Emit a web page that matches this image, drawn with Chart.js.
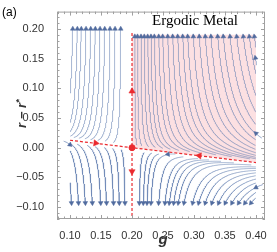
<!DOCTYPE html>
<html>
<head>
<meta charset="utf-8">
<script src="https://cdn.jsdelivr.net/npm/chart.js@4.4.0/dist/chart.umd.min.js"></script>
<style>
  html, body { margin: 0; padding: 0; background: #fff; }
</style>
</head>
<body>
<canvas id="c" width="277" height="252"></canvas>
<script>
// axis ranges and ticks
const X_RANGE = [0.079, 0.4145];
const Y_RANGE = [-0.12, 0.229];
const X_TICKS = [0.10, 0.15, 0.20, 0.25, 0.30, 0.35, 0.40];
const Y_TICKS = [-0.10, -0.05, 0.00, 0.05, 0.10, 0.15, 0.20];

// saddle point and its stable separatrix
const FIXED_POINT = [0.2, 0.0];
const SEP_SLOPE = -0.125;
const SEP_X = [0.1, 0.4];
const CRIT_Y = [-0.115, 0.195];     // vertical unstable line
const METAL_TOP = 0.19;              // top of shaded region

// flow strengths (du = -A g u, dw = B w (1 + C|w|))
const FLOW_A = 1.0;
const FLOW_B = 0.874;
const FLOW_C = 10;

// streamline end points (arrow tips)
const UP_LEFT_X = [0.1044, 0.1118, 0.1182, 0.1258, 0.1334, 0.1408, 0.1484, 0.156, 0.1645, 0.1726, 0.1818];
const UP_LEFT_Y = 0.2;
const UP_RIGHT_X = [0.2045, 0.2089, 0.2145, 0.2198, 0.2253, 0.2306, 0.236, 0.2431, 0.2495, 0.2576, 0.2656, 0.2737,
  0.2818, 0.2898, 0.2989, 0.3085, 0.3182, 0.3274, 0.3382, 0.3473, 0.3581, 0.3689, 0.3795, 0.3892, 0.3973];
const UP_RIGHT_Y = 0.187;
const DOWN_X = [0.1024, 0.1137, 0.1247, 0.136, 0.1495, 0.1589, 0.1702, 0.1795, 0.1887,
  0.2118, 0.2182, 0.2242, 0.2306, 0.243, 0.2532, 0.2602, 0.2673, 0.2747, 0.2839, 0.2979,
  0.3076, 0.3182, 0.329, 0.3398, 0.3505, 0.3613, 0.3721, 0.3823, 0.3919];
const DOWN_Y = -0.093;
const SHORT_ENDS = [[0.399, 0.151], [0.4, 0.024], [0.4, -0.067], [0.1, 0.005], [0.258, -0.011]];

// red arrows on the separatrices: [x, y, direction]
const RED_ARROWS = [[0.2, 0.095, 'up'], [0.2, -0.04, 'down'], [0.1414, 0.0077, 'in'], [0.3085, -0.0135, 'out']];

const STEP = 0.001;
const W_MIN = 0.005;
const BLUE = 'rgba(96,124,176,0.62)';
const ARROW_BLUE = '#506b9e';
const RED = '#ea2a2f';

function sepY(x) { return FIXED_POINT[1] + SEP_SLOPE * (x - FIXED_POINT[0]); }

function field(x, y) {
  const u = x - FIXED_POINT[0];
  const w = y - sepY(x);
  const du = -FLOW_A * x * u;
  const dw = FLOW_B * w * (1 + FLOW_C * Math.abs(w));
  return [du, dw + SEP_SLOPE * du];
}

// trace backwards from the arrow tip
function trace(x, y, maxLen, clip) {
  const pts = [{x, y}];
  let len = 0;
  while (len < maxLen) {
    const [vx, vy] = field(x, y);
    const s = Math.hypot(vx, vy);
    if (s === 0) break;
    x -= STEP * vx / s;
    y -= STEP * vy / s;
    len += STEP;
    if (clip) {
      if (x < 0.1 || x > 0.4 || y < -0.1 || y > 0.2) break;
      if (Math.abs(y - sepY(x)) < W_MIN) break;
    }
    pts.push({x, y});
  }
  return pts.reverse();
}

function rotation(x, y) {
  const [vx, vy] = field(x, y);
  return Math.atan2(vx * 620, vy * 613) * 180 / Math.PI;
}

const lines = [];
UP_LEFT_X.forEach(x => lines.push(trace(x, UP_LEFT_Y, 0.5, true)));
UP_RIGHT_X.forEach(x => lines.push(trace(x, UP_RIGHT_Y, 0.5, true)));
DOWN_X.forEach(x => lines.push(trace(x, DOWN_Y, 0.5, true)));
SHORT_ENDS.forEach(p => lines.push(trace(p[0], p[1], 0.012, false)));

const datasets = lines.map(pts => ({
  data: pts,
  showLine: true,
  borderColor: BLUE,
  borderWidth: 0.9,
  pointRadius: 0,
  order: 2
}));

const tips = lines.map(pts => pts[pts.length - 1]);
datasets.push({
  data: tips,
  showLine: false,
  pointStyle: 'triangle',
  pointRadius: 2.7,
  pointRotation: tips.map(p => rotation(p.x, p.y)),
  backgroundColor: ARROW_BLUE,
  borderColor: ARROW_BLUE,
  borderWidth: 0.5,
  order: 1
});

// separatrices
datasets.push({
  data: SEP_X.map(x => ({x, y: sepY(x)})),
  showLine: true, borderColor: RED, borderWidth: 1.2, borderDash: [3, 2],
  pointRadius: 0, order: 0
});
datasets.push({
  data: CRIT_Y.map(y => ({x: FIXED_POINT[0], y})),
  showLine: true, borderColor: RED, borderWidth: 1.2, borderDash: [3, 2],
  pointRadius: 0, order: 0
});
const redRot = {up: 0, down: 180, in: 97, out: -83};
datasets.push({
  data: RED_ARROWS.map(a => ({x: a[0], y: a[1]})),
  showLine: false, pointStyle: 'triangle', pointRadius: 3.6,
  pointRotation: RED_ARROWS.map(a => redRot[a[2]]),
  backgroundColor: RED, borderColor: RED, borderWidth: 0.5, order: -1
});
datasets.push({
  data: [{x: FIXED_POINT[0], y: FIXED_POINT[1]}],
  showLine: false, pointStyle: 'circle', pointRadius: 3,
  backgroundColor: RED, borderColor: RED, order: -2
});

// shaded "ergodic metal" region
const shade = {
  id: 'shade',
  beforeDatasetsDraw(chart) {
    const {ctx, scales: {x, y}} = chart;
    ctx.save();
    ctx.fillStyle = 'rgba(252,222,224,0.95)';
    ctx.beginPath();
    ctx.moveTo(x.getPixelForValue(0.2), y.getPixelForValue(sepY(0.2)));
    ctx.lineTo(x.getPixelForValue(0.4), y.getPixelForValue(sepY(0.4)));
    ctx.lineTo(x.getPixelForValue(0.4), y.getPixelForValue(METAL_TOP));
    ctx.lineTo(x.getPixelForValue(0.2), y.getPixelForValue(METAL_TOP));
    ctx.closePath();
    ctx.fill();
    ctx.restore();
  }
};

// frame with inward ticks, plus labels
const frame = {
  id: 'frame',
  afterDraw(chart) {
    const {ctx, chartArea: a, scales: {x, y}} = chart;
    ctx.save();
    ctx.strokeStyle = '#a0a0a0';
    ctx.lineWidth = 1;
    ctx.strokeRect(a.left + 0.5, a.top + 0.5, a.right - a.left - 1, a.bottom - a.top - 1);
    ctx.beginPath();
    for (let i = 8; i <= 41; i++) {
      const px = Math.round(x.getPixelForValue(i / 100)) + 0.5;
      const len = i % 5 === 0 ? 4 : 2.5;
      ctx.moveTo(px, a.bottom); ctx.lineTo(px, a.bottom - len);
      ctx.moveTo(px, a.top); ctx.lineTo(px, a.top + len);
    }
    for (let i = -12; i <= 22; i++) {
      const py = Math.round(y.getPixelForValue(i / 100)) + 0.5;
      const len = i % 5 === 0 ? 4 : 2.5;
      ctx.moveTo(a.left, py); ctx.lineTo(a.left + len, py);
      ctx.moveTo(a.right, py); ctx.lineTo(a.right - len, py);
    }
    ctx.stroke();

    ctx.fillStyle = '#000';
    ctx.font = '15px "Liberation Serif"';
    ctx.textAlign = 'center';
    ctx.textBaseline = 'alphabetic';
    ctx.fillText('Ergodic Metal', 195, 25);

    ctx.font = '12px "Liberation Sans"';
    ctx.textAlign = 'left';
    ctx.fillText('(a)', 2, 16);

    ctx.fillStyle = '#333';
    ctx.font = 'italic bold 15px "Liberation Sans"';
    ctx.textAlign = 'center';
    ctx.fillText('g', 163, 244);

    // y title, rotated
    ctx.translate(26, 113);
    ctx.rotate(-Math.PI / 2);
    ctx.font = 'italic bold 13px "Liberation Sans"';
    ctx.textAlign = 'left';
    const main = 'r \u2212 r';
    const w = ctx.measureText(main).width;
    const x0 = -(w + 5) / 2;
    ctx.fillText(main, x0, 0);
    ctx.font = 'bold 9px "Liberation Sans"';
    ctx.fillText('*', x0 + w + 0.5, -4);
    ctx.restore();
  }
};

const fmt = v => (v < 0 ? '\u2212' : '') + Math.abs(v).toFixed(2);

new Chart(document.getElementById('c'), {
  type: 'scatter',
  data: {datasets},
  options: {
    responsive: false,
    animation: false,
    layout: {padding: {top: 5, right: 12, left: 0, bottom: 0}},
    plugins: {legend: {display: false}, tooltip: {enabled: false}},
    scales: {
      x: {
        type: 'linear', min: X_RANGE[0], max: X_RANGE[1],
        grid: {display: false}, border: {display: false},
        afterBuildTicks: s => { s.ticks = X_TICKS.map(v => ({value: v})); },
        afterFit: s => { s.height = 33; },
        ticks: {callback: fmt, color: '#333', font: {family: 'Liberation Sans', size: 11}, padding: 2, maxRotation: 0}
      },
      y: {
        type: 'linear', min: Y_RANGE[0], max: Y_RANGE[1],
        grid: {display: false}, border: {display: false},
        afterBuildTicks: s => { s.ticks = Y_TICKS.map(v => ({value: v})); },
        afterFit: s => { s.width = 57; },
        ticks: {callback: fmt, color: '#333', font: {family: 'Liberation Sans', size: 11}, padding: 5}
      }
    }
  },
  plugins: [shade, frame]
});
</script>
</body>
</html>
